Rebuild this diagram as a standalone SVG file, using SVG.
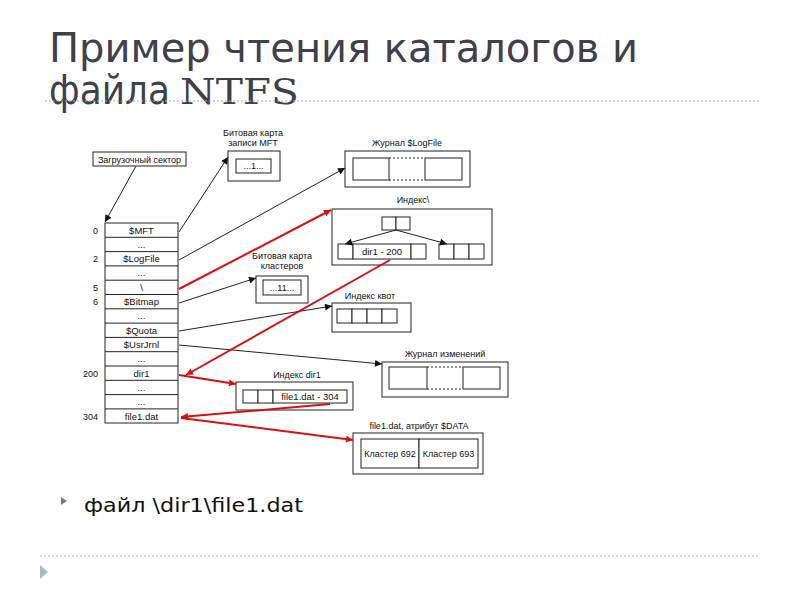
<svg xmlns="http://www.w3.org/2000/svg" width="800" height="600" viewBox="0 0 800 600">
<defs>
<style>
.t{font-family:"Liberation Sans",Arial,sans-serif;font-size:9px;fill:#111;text-anchor:middle}
.r{font-family:"Liberation Sans",Arial,sans-serif;font-size:9.5px;fill:#111;text-anchor:middle}
.n{font-family:"Liberation Sans",Arial,sans-serif;font-size:9px;fill:#111;text-anchor:end}
.b{fill:#fff;stroke:#222;stroke-width:1}
.d{fill:none;stroke:#222;stroke-width:1;stroke-dasharray:2,2}
.k{fill:none;stroke:#222;stroke-width:1;marker-end:url(#ak)}
.red{fill:none;stroke:#d81010;stroke-width:2;marker-end:url(#ar)}
.sep{stroke:#a8b0bc;stroke-width:1;stroke-dasharray:2,2}
</style>
<marker id="ak" viewBox="0 0 10 10" refX="10" refY="5" markerWidth="8" markerHeight="7" markerUnits="userSpaceOnUse" orient="auto"><path d="M0,0 L10,5 L0,10 z" fill="#111"/></marker>
<marker id="ar" viewBox="0 0 10 10" refX="10" refY="5" markerWidth="9" markerHeight="7" markerUnits="userSpaceOnUse" orient="auto"><path d="M0,0 L10,5 L0,10 z" fill="#d81010"/></marker>
</defs>
<rect width="800" height="600" fill="#fff"/>
<g id="title" fill="#40404c">
<text x="49" y="62" font-family="'DejaVu Sans',sans-serif" font-stretch="condensed" font-size="41" textLength="589" lengthAdjust="spacingAndGlyphs">Пример чтения каталогов и</text>
<text x="49" y="104" font-family="'DejaVu Sans',sans-serif" font-size="41" textLength="121" lengthAdjust="spacingAndGlyphs">файла</text>
<text x="180" y="104" font-family="'DejaVu Serif','Liberation Serif',serif" font-size="35" textLength="119" lengthAdjust="spacingAndGlyphs">NTFS</text>
</g>
<line class="sep" x1="45" y1="101" x2="760" y2="101"/>
<line class="sep" x1="40" y1="556" x2="760" y2="556"/>
<path d="M40,565 L48,572 L40,579 z" fill="#a4b8d0"/>
<g id="bullet">
<path d="M61,497 L67,501 L61,505 z" fill="#6c7c9c"/>
<text x="84" y="512" font-family="'DejaVu Sans',sans-serif" font-stretch="condensed" font-size="19" fill="#111" textLength="219" lengthAdjust="spacingAndGlyphs">файл \dir1\file1.dat</text>
</g>

<g id="boot">
<rect class="b" x="93" y="152" width="93" height="14"/>
<text class="t" x="139.5" y="162.5">Загрузочный сектор</text>
</g>

<g id="mft">
<rect class="b" x="105" y="223" width="73" height="200"/>
<g stroke="#222" stroke-width="1">
<line x1="105" y1="237.3" x2="178" y2="237.3"/>
<line x1="105" y1="251.6" x2="178" y2="251.6"/>
<line x1="105" y1="265.9" x2="178" y2="265.9"/>
<line x1="105" y1="280.2" x2="178" y2="280.2"/>
<line x1="105" y1="294.5" x2="178" y2="294.5"/>
<line x1="105" y1="308.8" x2="178" y2="308.8"/>
<line x1="105" y1="323.1" x2="178" y2="323.1"/>
<line x1="105" y1="337.4" x2="178" y2="337.4"/>
<line x1="105" y1="351.7" x2="178" y2="351.7"/>
<line x1="105" y1="366" x2="178" y2="366"/>
<line x1="105" y1="380.3" x2="178" y2="380.3"/>
<line x1="105" y1="394.6" x2="178" y2="394.6"/>
<line x1="105" y1="408.9" x2="178" y2="408.9"/>
</g>
<text class="r" x="141.5" y="233.5">$MFT</text>
<text class="r" x="141.5" y="247.5">...</text>
<text class="r" x="141.5" y="262">$LogFile</text>
<text class="r" x="141.5" y="276">...</text>
<text class="r" x="141.5" y="290.5">\</text>
<text class="r" x="141.5" y="305">$Bitmap</text>
<text class="r" x="141.5" y="319">...</text>
<text class="r" x="141.5" y="333.5">$Quota</text>
<text class="r" x="141.5" y="348">$UsrJrnl</text>
<text class="r" x="141.5" y="362">...</text>
<text class="r" x="141.5" y="376.5">dir1</text>
<text class="r" x="141.5" y="390.5">...</text>
<text class="r" x="141.5" y="405">...</text>
<text class="r" x="141.5" y="419.5">file1.dat</text>
<text class="n" x="98" y="233.5">0</text>
<text class="n" x="98" y="262">2</text>
<text class="n" x="98" y="290.5">5</text>
<text class="n" x="98" y="305">6</text>
<text class="n" x="98" y="376.5">200</text>
<text class="n" x="98" y="419.5">304</text>
</g>

<g id="bitmap-mft">
<text class="t" x="253" y="136">Битовая карта</text>
<text class="t" x="253" y="146">записи MFT</text>
<rect class="b" x="228" y="151" width="52" height="30"/>
<rect class="b" x="236" y="159" width="35" height="14"/>
<text class="t" x="253.5" y="169">...1...</text>
</g>

<g id="logfile">
<text class="t" x="407" y="146">Журнал $LogFile</text>
<rect class="b" x="345" y="151" width="125" height="36"/>
<rect class="b" x="353" y="158" width="36" height="22"/>
<rect class="b" x="425" y="158" width="37" height="22"/>
<line class="d" x1="389" y1="158" x2="425" y2="158"/>
<line class="d" x1="389" y1="180" x2="425" y2="180"/>
</g>

<g id="index-root">
<text class="t" x="413" y="203">Индекс\</text>
<rect class="b" x="332" y="209" width="160" height="56"/>
<rect class="b" x="382" y="217" width="14" height="13"/>
<rect class="b" x="396" y="217" width="14" height="13"/>
<rect class="b" x="338" y="244" width="15" height="15"/>
<rect class="b" x="353" y="244" width="58" height="15"/>
<rect class="b" x="411" y="244" width="15" height="15"/>
<text class="r" x="382" y="255">dir1 - 200</text>
<rect class="b" x="439" y="244" width="15" height="15"/>
<rect class="b" x="454" y="244" width="15" height="15"/>
<rect class="b" x="469" y="244" width="15" height="15"/>
<line class="k" x1="396" y1="230" x2="345" y2="244"/>
<line class="k" x1="396" y1="230" x2="447" y2="244"/>
</g>

<g id="bitmap-clusters">
<text class="t" x="282" y="259">Битовая карта</text>
<text class="t" x="282" y="269">кластеров</text>
<rect class="b" x="256" y="276" width="52" height="27"/>
<rect class="b" x="263" y="280" width="38" height="15"/>
<text class="t" x="282" y="291">...11...</text>
</g>

<g id="quota">
<text class="t" x="370" y="299">Индекс квот</text>
<rect class="b" x="332" y="303" width="79" height="29"/>
<rect class="b" x="337" y="309" width="15" height="14"/>
<rect class="b" x="352" y="309" width="15" height="14"/>
<rect class="b" x="367" y="309" width="15" height="14"/>
<rect class="b" x="382" y="309" width="15" height="14"/>
</g>

<g id="usnjrnl">
<text class="t" x="445" y="357">Журнал изменений</text>
<rect class="b" x="382" y="362" width="126" height="35"/>
<rect class="b" x="389" y="367" width="38" height="22"/>
<rect class="b" x="463" y="367" width="37" height="22"/>
<line class="d" x1="427" y1="367" x2="463" y2="367"/>
<line class="d" x1="427" y1="389" x2="463" y2="389"/>
</g>

<g id="index-dir1">
<text class="t" x="297" y="378">Индекс dir1</text>
<rect class="b" x="236" y="382" width="117" height="28"/>
<rect class="b" x="243" y="390" width="15" height="13"/>
<rect class="b" x="258" y="390" width="15" height="13"/>
<rect class="b" x="273" y="390" width="74" height="13"/>
<text class="r" x="310" y="400">file1.dat - 304</text>
</g>

<g id="data">
<text class="t" x="419" y="429">file1.dat, атрибут $DATA</text>
<rect class="b" x="353" y="433" width="130" height="41"/>
<rect class="b" x="361" y="439" width="58" height="29"/>
<rect class="b" x="419" y="439" width="59" height="29"/>
<text class="t" x="390" y="457">Кластер 692</text>
<text class="t" x="448.5" y="457">Кластер 693</text>
</g>

<g id="connectors">
<line class="k" x1="136" y1="166" x2="105" y2="222"/>
<line class="k" x1="179" y1="232" x2="228" y2="157"/>
<line class="k" x1="179" y1="260" x2="345" y2="168"/>
<line class="k" x1="179" y1="303" x2="256" y2="278"/>
<line class="k" x1="179" y1="331" x2="332" y2="306"/>
<line class="k" x1="179" y1="345" x2="382" y2="364"/>
<line class="red" x1="179" y1="289" x2="331" y2="210"/>
<line class="red" x1="390" y1="260" x2="186" y2="375"/>
<line class="red" x1="179" y1="375" x2="236" y2="384"/>
<line class="red" x1="330" y1="404" x2="181" y2="417"/>
<line class="red" x1="181" y1="418" x2="353" y2="440"/>
</g>
</svg>
